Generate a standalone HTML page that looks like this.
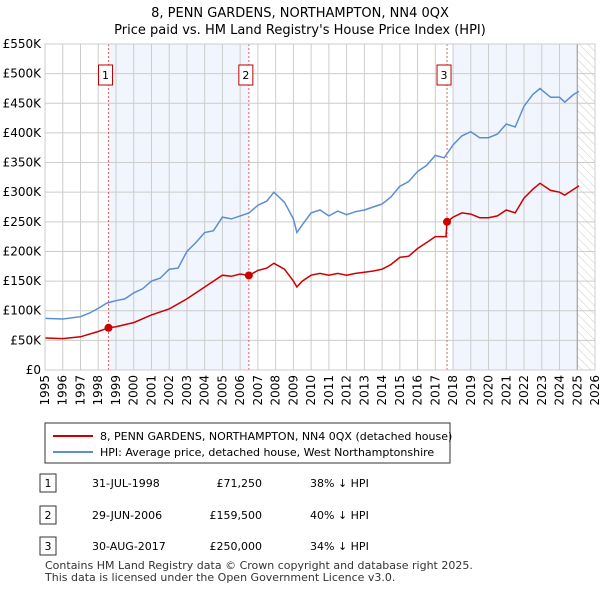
<!DOCTYPE html>
<html><head><meta charset="utf-8"><style>
body{margin:0;background:#fff;font-family:"Liberation Sans","DejaVu Sans",sans-serif;}
svg text{font-family:"DejaVu Sans","Liberation Sans",sans-serif;}
</style></head><body>
<svg id="c" width="600" height="590" xmlns="http://www.w3.org/2000/svg">
<defs><pattern id="hatch" width="6" height="6" patternUnits="userSpaceOnUse" patternTransform="rotate(-45)"><line x1="0" y1="0" x2="0" y2="6" stroke="#ccc" stroke-width="1"/></pattern></defs>
<text x="300" y="17" text-anchor="middle" font-size="13">8, PENN GARDENS, NORTHAMPTON, NN4 0QX</text>
<text x="300" y="34" text-anchor="middle" font-size="13">Price paid vs. HM Land Registry's House Price Index (HPI)</text>
<g id="plot"></g>
<g>
<rect x="45" y="423" width="405" height="40" fill="#fff" stroke="#333"/>
<line x1="53" y1="436" x2="93" y2="436" stroke="#cc0000" stroke-width="2"/>
<text x="100" y="440" font-size="11">8, PENN GARDENS, NORTHAMPTON, NN4 0QX (detached house)</text>
<line x1="53" y1="452" x2="93" y2="452" stroke="#5b8fd0" stroke-width="2"/>
<text x="100" y="456" font-size="11">HPI: Average price, detached house, West Northamptonshire</text>
</g>
<g font-size="11">
<rect x="40" y="474" width="16" height="18" fill="#fff" stroke="#333"/><text x="48" y="487" text-anchor="middle">1</text>
<text x="92" y="487">31-JUL-1998</text><text x="262" y="487" text-anchor="end">£71,250</text><text x="310" y="487">38% ↓ HPI</text>
<rect x="40" y="506" width="16" height="18" fill="#fff" stroke="#333"/><text x="48" y="519" text-anchor="middle">2</text>
<text x="92" y="519">29-JUN-2006</text><text x="262" y="519" text-anchor="end">£159,500</text><text x="310" y="519">40% ↓ HPI</text>
<rect x="40" y="537" width="16" height="18" fill="#fff" stroke="#333"/><text x="48" y="550" text-anchor="middle">3</text>
<text x="92" y="550">30-AUG-2017</text><text x="262" y="550" text-anchor="end">£250,000</text><text x="310" y="550">34% ↓ HPI</text>
</g>
<text x="45" y="569" font-size="11" fill="#333">Contains HM Land Registry data © Crown copyright and database right 2025.</text>
<text x="45" y="581" font-size="11" fill="#333">This data is licensed under the Open Government Licence v3.0.</text>
</svg>
<script>
const yTicks=[0,50,100,150,200,250,300,350,400,450,500,550];
const yTickLabels=["£0","£50K","£100K","£150K","£200K","£250K","£300K","£350K","£400K","£450K","£500K","£550K"];
const xYears=[1995,1996,1997,1998,1999,2000,2001,2002,2003,2004,2005,2006,2007,2008,2009,2010,2011,2012,2013,2014,2015,2016,2017,2018,2019,2020,2021,2022,2023,2024,2025,2026];
const hpiT=[1995,1996,1997,1997.5,1998,1998.5,1999,1999.5,2000,2000.5,2001,2001.5,2002,2002.5,2003,2003.5,2004,2004.5,2005,2005.5,2006,2006.5,2007,2007.5,2007.9,2008.5,2009,2009.2,2009.5,2010,2010.5,2011,2011.5,2012,2012.5,2013,2013.5,2014,2014.5,2015,2015.5,2016,2016.5,2017,2017.5,2018,2018.5,2019,2019.5,2020,2020.5,2021,2021.5,2022,2022.5,2022.9,2023.5,2024,2024.3,2024.8,2025.1];
const hpiV=[87,86,90,96,104,113,117,120,130,137,150,155,170,172,200,215,232,235,258,255,260,265,278,285,300,283,255,232,245,265,270,260,268,262,267,270,275,280,292,310,318,335,345,362,358,380,395,402,392,392,398,415,410,445,465,475,460,460,452,465,470];
const paidT=[1995,1996,1997,1998,1998.58,1999,2000,2001,2002,2003,2004,2005,2005.5,2006,2006.49,2007,2007.5,2007.9,2008.5,2009,2009.2,2009.5,2010,2010.5,2011,2011.5,2012,2012.5,2013,2013.5,2014,2014.5,2015,2015.5,2016,2016.5,2017,2017.6,2017.66,2018,2018.5,2019,2019.5,2020,2020.5,2021,2021.5,2022,2022.5,2022.9,2023.5,2024,2024.3,2025.1];
const paidV=[54,53,56,65,71.25,73,80,93,103,120,140,160,158,162,159.5,168,172,180,170,150,140,150,160,163,160,163,160,163,165,167,170,178,190,192,205,215,225,225,250,258,265,263,257,257,260,270,265,290,305,315,303,300,295,311];
const saleT=[1998.58,2006.49,2017.66];
const saleV=[71.25,159.5,250];
const saleLabels=["1","2","3"];
const X0=45,X1=595,Y0=370,Y1=44;
const xs=t=>X0+(t-1995)/31*(X1-X0);
const ys=v=>Y0-v/550*(Y0-Y1);
const NS="http://www.w3.org/2000/svg";
const g=document.getElementById('plot');
function mk(tag,a){const e=document.createElementNS(NS,tag);for(const k in a)e.setAttribute(k,a[k]);g.appendChild(e);return e;}
let r;
r=mk('rect',{x:xs(saleT[0]),y:Y1,width:xs(saleT[1])-xs(saleT[0]),height:Y0-Y1,fill:'#eef3fc',opacity:0.8});


r=mk('rect',{x:xs(2018),y:Y1,width:xs(2025)-xs(2018),height:Y0-Y1,fill:'#eef3fc',opacity:0.8});


r=mk('rect',{x:xs(2025),y:Y1,width:X1-xs(2025),height:Y0-Y1,fill:'url(#hatch)'});


yTicks.forEach((v,i)=>{
 const l=mk('line',{x1:X0,x2:X1,y1:ys(v),y2:ys(v),stroke:'#ccc'});
 
 
 const t=mk('text',{x:X0-4,y:ys(v)+4,'text-anchor':'end','font-size':12});
 
 
 t.textContent=yTickLabels[i];
});
xYears.forEach(y=>{
 const l=mk('line',{x1:xs(y),x2:xs(y),y1:Y1,y2:Y0,stroke:'#ccc'});
 
 
 const t=mk('text',{x:0,y:0,'text-anchor':'end','font-size':12,transform:`translate(${xs(y)+4},${Y0+5}) rotate(-90)`});
 
 
 t.textContent=y;
});
r=mk('line',{x1:xs(2025),x2:xs(2025),y1:Y1,y2:Y0,stroke:'#999','stroke-width':1});


saleT.forEach((t,i)=>{
 const l=mk('line',{x1:xs(t),x2:xs(t),y1:Y1,y2:Y0,stroke:'#e06060','stroke-dasharray':'2,2'});
 
 
 const b=mk('rect',{x:xs(t)-3-7,y:65,width:14,height:20,fill:'#fff',stroke:'#b00'});
 
 
 const tx=mk('text',{x:xs(t)-3,y:79,'text-anchor':'middle','font-size':11});
 
 
 tx.textContent=saleLabels[i];
});
const hp=mk('path',{d:hpiT.map((t,i)=>(i?'L':'M')+xs(t).toFixed(1)+','+ys(hpiV[i]).toFixed(1)).join(''),fill:'none',stroke:'#5b8fd0','stroke-width':1.5});


const pp=mk('path',{d:paidT.map((t,i)=>(i?'L':'M')+xs(t).toFixed(1)+','+ys(paidV[i]).toFixed(1)).join(''),fill:'none',stroke:'#cc0000','stroke-width':1.5});


saleT.forEach((t,i)=>{
 const c=mk('circle',{cx:xs(t),cy:ys(saleV[i]),r:4,fill:'#cc0000'});
 
 
});
r=mk('rect',{x:X0,y:Y1,width:X1-X0,height:Y0-Y1,fill:'none',stroke:'#ccc'});


</script>
</body></html>
